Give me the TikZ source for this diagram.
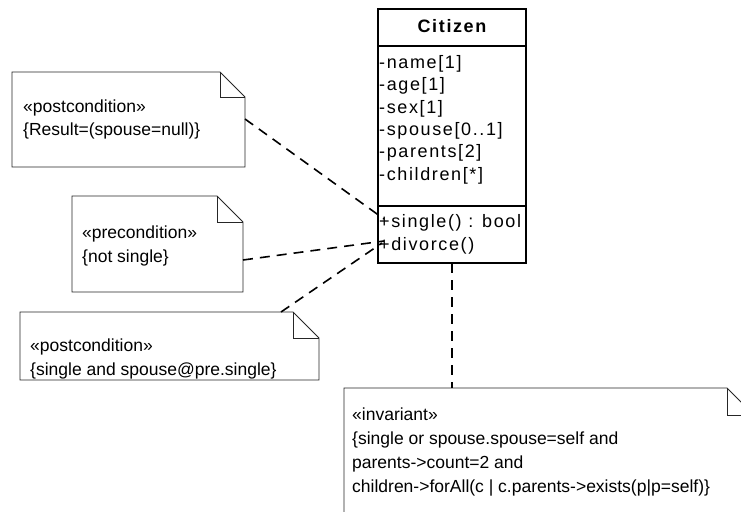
\documentclass[tikz,border=0pt]{standalone}
\usepackage{fontspec}
\setmainfont{Liberation Sans}
\newfontfamily\classfont[LetterSpace=9]{Liberation Sans}
\begin{document}
\begin{tikzpicture}[x=1pt,y=-1pt,
  notebody/.style={draw=black!85,line width=0.8pt,fill=white},
  classbox/.style={draw=black,line width=1.6pt},
  notetext/.style={anchor=base west,inner sep=0pt,font=\fontsize{17.5}{20}\selectfont},
  membertext/.style={anchor=base west,inner sep=0pt,font=\classfont\fontsize{18}{20}\selectfont},
  anchorline/.style={dashed,dash pattern=on 10pt off 7pt,line width=1.6pt}]

\useasboundingbox (0,0) rectangle (741,511);
\clip (0,0) rectangle (741,511);

% note outline with folded corner: left, top, right, bottom, fold size
\newcommand{\umlnote}[5]{%
  \draw[notebody] (#1,#2) -- ({#3-#5},#2) -- (#3,{#2+#5}) -- (#3,#4) -- (#1,#4) -- cycle;
  \draw[notebody,fill=none] ({#3-#5},#2) -- ({#3-#5},{#2+#5}) -- (#3,{#2+#5});}

% ---- class Citizen ----
\draw[classbox] (378,9) rectangle (526,263);
\draw[classbox] (378,46) -- (526,46);
\draw[classbox] (378,206) -- (526,206);
\node[anchor=base,inner sep=0pt,font=\classfont\bfseries\fontsize{18}{20}\selectfont] (title) at (452,33) {Citizen};
\node[membertext] (a1) at (379,68) {-name[1]};
\node[membertext] (a2) at (379,90.5) {-age[1]};
\node[membertext] (a3) at (379,113) {-sex[1]};
\node[membertext] (a4) at (379,135) {-spouse[0..1]};
\node[membertext] (a5) at (379,157.5) {-parents[2]};
\node[membertext] (a6) at (379,180) {-children[*]};
\node[membertext] (m1) at (379,227) {+single() : bool};
\node[membertext] (m2) at (379,250) {+divorce()};

\coordinate (single) at (384,219);
\coordinate (divorceA) at (384,241);
\coordinate (divorceB) at (382,243);
\coordinate (clsbottom) at (452,263);

% ---- notes ----
\umlnote{12}{72}{245}{167}{25}
\node[notetext] (n1a) at (23,112) {«postcondition»};
\node[notetext] (n1b) at (23,135) {\{Result=(spouse=null)\}};
\coordinate (n1) at (245,119);

\umlnote{72}{196}{243}{292}{26}
\node[notetext] (n2a) at (82,238) {«precondition»};
\node[notetext] (n2b) at (82,262) {\{not single\}};
\coordinate (n2) at (243,260);

\umlnote{20}{312}{319}{380}{26}
\node[notetext] (n3a) at (30,351) {«postcondition»};
\node[notetext] (n3b) at (30,375) {\{single and spouse@pre.single\}};
\coordinate (n3) at (281,312);

\umlnote{344}{388}{754}{540}{27}
\node[notetext] (n4a) at (352,420) {«invariant»};
\node[notetext] (n4b) at (352,444) {\{single or spouse.spouse=self and};
\node[notetext] (n4c) at (352,468) {parents->count=2 and};
\node[notetext] (n4d) at (352,492) {children->forAll(c | c.parents->exists(p|p=self)\}};
\coordinate (n4) at (452,388);

% ---- anchor lines ----
\draw[anchorline] (n1) -- (single);
\draw[anchorline] (n2) -- (divorceA);
\draw[anchorline] (n3) -- (divorceB);
\draw[anchorline] (clsbottom) -- (n4);
\end{tikzpicture}
\end{document}
